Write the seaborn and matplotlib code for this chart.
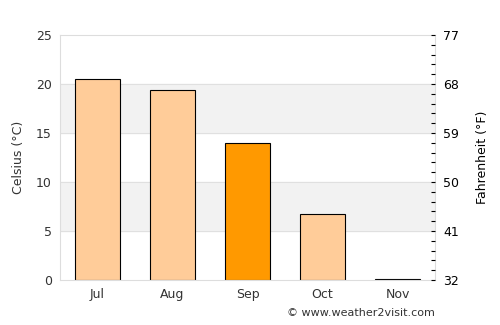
import matplotlib
matplotlib.use("Agg")
import matplotlib.pyplot as plt
import seaborn as sns
import pandas as pd
from matplotlib.ticker import MultipleLocator

# Monthly average temperature (Celsius)
months = ["Jul", "Aug", "Sep", "Oct", "Nov"]
temps_c = [20.5, 19.4, 14.0, 6.7, 0.1]
highlight = ["no", "no", "yes", "no", "no"]
f_ticks = [32, 41, 50, 59, 68, 77]

df = pd.DataFrame({"month": months, "temp": temps_c, "hl": highlight})

sns.set_theme(style="white")
plt.rcParams["font.family"] = ["DejaVu Sans"]

fig = plt.figure(figsize=(5, 3.25), dpi=100)
ax = fig.add_axes([0.12, 0.1385, 0.75, 0.7535])

# alternating bands
for lo in (5, 15):
    ax.axhspan(lo, lo + 5, color="#f2f2f2", zorder=0)
for y in (5, 10, 15, 20):
    ax.axhline(y, color="#e0e0e0", lw=0.8, zorder=0.5)

sns.barplot(data=df, x="month", y="temp", hue="hl",
            palette={"no": "#ffcc99", "yes": "#ff9900"}, saturation=1,
            width=0.6, edgecolor="black", linewidth=0.8,
            legend=False, ax=ax, zorder=2)

ax.set_xlim(-0.5, 4.5)
ax.set_ylim(0, 25)
ax.set_yticks([0, 5, 10, 15, 20, 25])
ax.set_xlabel("")
ax.set_ylabel("Celsius (°C)", fontsize=9, color="#333333", labelpad=8)
ax.tick_params(axis="both", labelsize=9, colors="#333333", length=0, pad=6)
for s in ax.spines.values():
    s.set_color("#dddddd")
    s.set_linewidth(0.8)

# Fahrenheit axis on right
ax2 = ax.twinx()
ax2.set_ylim(0, 25)
ax2.set_yticks([(f - 32) / 1.8 for f in f_ticks])
ax2.set_yticklabels([str(f) for f in f_ticks])
ax2.yaxis.set_minor_locator(MultipleLocator(1))
ax2.tick_params(axis="y", which="major", direction="in", length=3, width=0.8,
                color="black", labelsize=9, labelcolor="black", pad=6)
ax2.tick_params(axis="y", which="minor", direction="in", length=3, width=0.8,
                color="black")
ax2.set_ylabel("Fahrenheit (°F)", fontsize=9, color="black", labelpad=12)
for s in ax2.spines.values():
    s.set_visible(False)

fig.text(0.87, 0.02, "© www.weather2visit.com", ha="right", va="bottom",
         fontsize=8, color="#333333")

fig.savefig("out.png", dpi=100)
